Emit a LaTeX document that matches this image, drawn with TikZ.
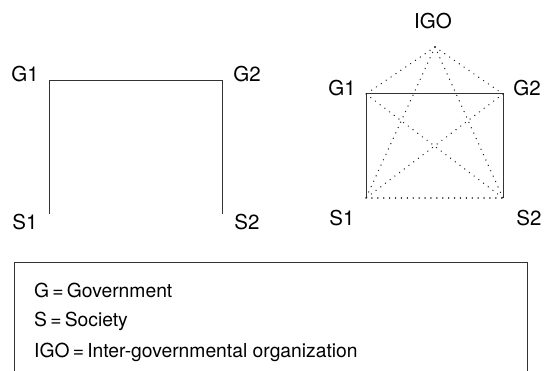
\documentclass[tikz,border=0pt]{standalone}
\usepackage{fontspec}
\setmainfont{TeX Gyre Heros}
\begin{document}
\begin{tikzpicture}[x=1pt,y=-1pt,
  lbl/.style={font=\fontsize{20.5}{24}\selectfont, inner sep=0pt},
  tie/.style={draw=black!80, line width=1pt},
  link/.style={draw=black!85, line width=1.4pt, line cap=round, dash pattern=on 0.1pt off 5.8pt},
  legend/.style={font=\fontsize{19.3}{22}\selectfont, inner sep=0pt, anchor=west}]
\useasboundingbox (0,0) rectangle (546,371);

% left: two states linked only at government level
\coordinate (lG1) at (49,81);
\coordinate (lG2) at (222,81);
\coordinate (lS1) at (49,214);
\coordinate (lS2) at (222,214);
\node[lbl] (tlG1) at (25,74) {G1};
\node[lbl] (tlG2) at (247,74) {G2};
\node[lbl] (tlS1) at (25,222) {S1};
\node[lbl] (tlS2) at (247,222) {S2};
\draw[tie] (lS1) -- (lG1) -- (lG2) -- (lS2);

% right: transnational links around an IGO
\coordinate (IGO) at (435,47);
\coordinate (rG1) at (366,94);
\coordinate (rG2) at (503,94);
\coordinate (rS1) at (366,198);
\coordinate (rS2) at (503,198);
\node[lbl] (tIGO) at (433,21) {IGO};
\node[lbl] (trG1) at (342,88) {G1};
\node[lbl] (trG2) at (527,88) {G2};
\node[lbl] (trS1) at (342,218) {S1};
\node[lbl] (trS2) at (529,218) {S2};
\draw[tie] (rS1) -- (rG1) -- (rG2) -- (rS2);
\draw[link] (rS1) -- (rS2);
\draw[link] (rG1) -- (rS2);
\draw[link] (rG2) -- (rS1);
\draw[link] (IGO) -- (rG1);
\draw[link] (IGO) -- (rG2);
\draw[link] (IGO) -- (rS1);
\draw[link] (IGO) -- (rS2);

% key
\draw[draw=black!80, line width=0.9pt] (14,380) -- (14,262) -- (527,262) -- (527,380);
\node[legend] (kG) at (34,290) {G\,=\,Government};
\node[legend] (kS) at (34,321) {S\,=\,Society};
\node[legend] (kI) at (34,352) {IGO\,=\,Inter-governmental organization};
\end{tikzpicture}
\end{document}
